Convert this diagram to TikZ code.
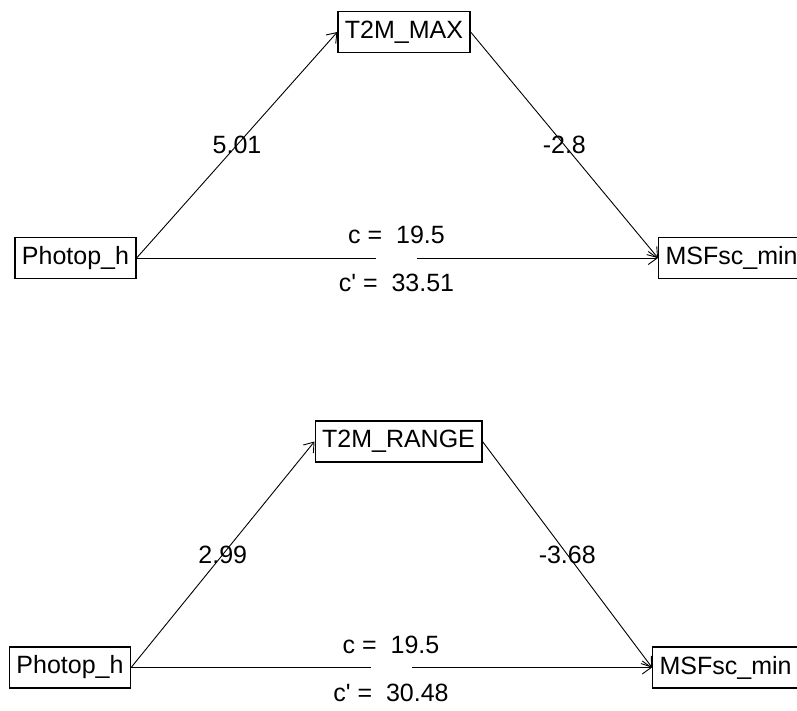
\documentclass[tikz,border=0pt]{standalone}
\usepackage{fontspec}
\setmainfont{Liberation Sans}
% plain family: no TeX ligature mapping, so ' stays a straight quote
\newfontfamily\plainsans{Liberation Sans}
\usetikzlibrary{arrows.meta}
\begin{document}
\begin{tikzpicture}[x=1pt,y=-1pt,
  var/.style={draw, line width=1.2pt, fill=white, minimum height=41pt,
    inner xsep=7pt, inner ysep=0pt, font=\plainsans\fontsize{25}{29}\selectfont},
  link/.style={line width=0.9pt},
  effect/.style={link, -{Straight Barb[length=9pt,width=13pt,line width=0.9pt]}},
  coef/.style={font=\plainsans\fontsize{25}{29}\selectfont, inner sep=0pt}]
\useasboundingbox (0,0) rectangle (797,711);
\clip (0,0) rectangle (797,711);

% --- mediation model 1: T2M_MAX ---
\node[var] (med1) at (404,32) {T2M\_MAX};
\node[var] (x1) at (75.5,258) {Photop\_h};
\node[var, anchor=west] (y1) at (658,258) {MSFsc\_min\hspace*{12pt}};
\coordinate (gap1l) at (376,258);
\coordinate (gap1r) at (417,258);
\node[coef] (c1) at (396.5,235) {c = \ 19.5};
\node[coef] (cp1) at (396.5,283) {c' = \ 33.51};

\draw[effect] (x1.east) -- node[coef] {5.01} (med1.west);
\draw[effect] (med1.east) -- node[coef] {-2.8} (y1.west);
\draw[link] (x1.east) -- (gap1l);
\draw[effect] (gap1r) -- (y1.west);

% --- mediation model 2: T2M_RANGE ---
\node[var] (med2) at (398.5,441.5) {T2M\_RANGE};
\node[var] (x2) at (70,667.5) {Photop\_h};
\node[var, anchor=west] (y2) at (652,667.5) {MSFsc\_min\hspace*{12pt}};
\coordinate (gap2l) at (371,667.5);
\coordinate (gap2r) at (412,667.5);
\node[coef] (c2) at (391,645) {c = \ 19.5};
\node[coef] (cp2) at (391,693) {c' = \ 30.48};

\draw[effect] (x2.east) -- node[coef] {2.99} (med2.west);
\draw[effect] (med2.east) -- node[coef] {-3.68} (y2.west);
\draw[link] (x2.east) -- (gap2l);
\draw[effect] (gap2r) -- (y2.west);
\end{tikzpicture}
\end{document}
